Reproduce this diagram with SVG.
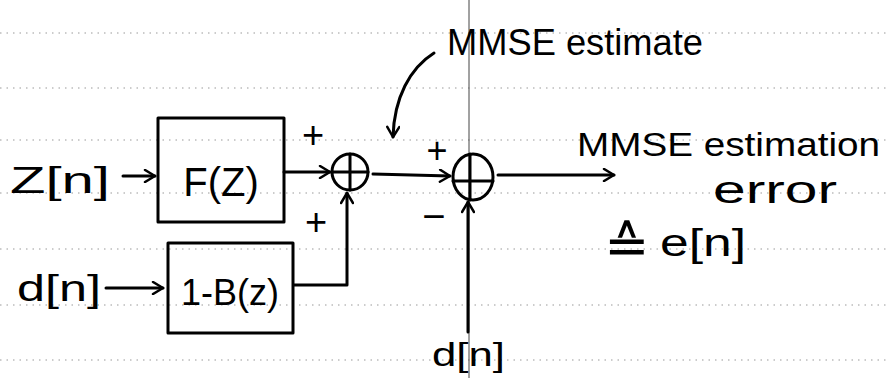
<svg xmlns="http://www.w3.org/2000/svg" width="890" height="378" viewBox="0 0 890 378">
<style>
.t{font-family:"Liberation Sans",Arial,sans-serif;fill:#000}
.s{fill:none;stroke:#000;stroke-width:3;stroke-linecap:round;stroke-linejoin:round}
.rule{stroke:#999;stroke-width:1;stroke-dasharray:1.5 5;fill:none}
</style>
<defs>
<marker id="ah" markerWidth="14" markerHeight="14" refX="12" refY="7" orient="auto" markerUnits="userSpaceOnUse">
<path d="M2,1 L12,7 L2,13" fill="none" stroke="#000" stroke-width="2.5" stroke-linecap="round" stroke-linejoin="round"/>
</marker>
</defs>
<rect width="890" height="378" fill="#fff"/>
<g id="ruling">
<line class="rule" x1="0" y1="33" x2="890" y2="33"/>
<line class="rule" x1="0" y1="88" x2="890" y2="88"/>
<line class="rule" x1="0" y1="140" x2="890" y2="140"/>
<line class="rule" x1="0" y1="193" x2="890" y2="193"/>
<line class="rule" x1="0" y1="249" x2="890" y2="249"/>
<line class="rule" x1="0" y1="305" x2="890" y2="305"/>
<line class="rule" x1="0" y1="360" x2="890" y2="360"/>
<line x1="469" y1="0" x2="469" y2="378" stroke="#444" stroke-width="1"/>
</g>
<g id="connectors">
<line class="s" x1="123" y1="176" x2="155" y2="176" marker-end="url(#ah)"/>
<line class="s" x1="284" y1="172" x2="330" y2="172" marker-end="url(#ah)"/>
<line class="s" x1="106" y1="288" x2="163" y2="288" marker-end="url(#ah)"/>
<polyline class="s" points="294,285 347,285 347,193" marker-end="url(#ah)"/>
<line class="s" x1="373" y1="174" x2="450" y2="176" marker-end="url(#ah)"/>
<line class="s" x1="468" y1="332" x2="468" y2="202" marker-end="url(#ah)"/>
<line class="s" x1="498" y1="175" x2="614" y2="175" marker-end="url(#ah)"/>
<path class="s" d="M434,53 C410,68 394,98 393,137" marker-end="url(#ah)"/>
</g>
<g id="z_in"><text class="t" x="10" y="193" font-size="36" textLength="100" lengthAdjust="spacingAndGlyphs">Z[n]</text></g>
<g id="d_in"><text class="t" x="17" y="301" font-size="36" textLength="84" lengthAdjust="spacingAndGlyphs">d[n]</text></g>
<g id="F">
<rect class="s" x="158" y="118" width="126" height="104"/>
<text class="t" x="221" y="196" font-size="40" text-anchor="middle">F(Z)</text>
</g>
<g id="B">
<rect class="s" x="168" y="243" width="125" height="90"/>
<text class="t" x="230" y="305" font-size="36" text-anchor="middle">1-B(z)</text>
</g>
<g id="sum1">
<circle class="s" cx="350" cy="172" r="18"/>
<line class="s" x1="332" y1="172" x2="368" y2="172"/>
<line class="s" x1="350" y1="154" x2="350" y2="190"/>
<text class="t" x="313" y="148" font-size="38" text-anchor="middle">+</text>
<text class="t" x="316" y="235" font-size="38" text-anchor="middle">+</text>
</g>
<g id="sum2">
<ellipse class="s" cx="473" cy="177" rx="20" ry="23"/>
<line class="s" x1="453" y1="181" x2="493" y2="181"/>
<line class="s" x1="470" y1="154" x2="470" y2="200"/>
<text class="t" x="437" y="163" font-size="36" text-anchor="middle">+</text>
<text class="t" x="434" y="230" font-size="40" text-anchor="middle">−</text>
</g>
<g id="d_bottom"><text class="t" x="432" y="366" font-size="34" textLength="73" lengthAdjust="spacingAndGlyphs">d[n]</text></g>
<g id="label_estimate"><text class="t" x="447" y="55" font-size="36" textLength="256" lengthAdjust="spacingAndGlyphs">MMSE estimate</text></g>
<g id="label_error">
<text class="t" x="577" y="156" font-size="34" textLength="303" lengthAdjust="spacingAndGlyphs">MMSE estimation</text>
<text class="t" x="713" y="203" font-size="38" textLength="124" lengthAdjust="spacingAndGlyphs">error</text>
<text x="604" y="264" font-size="54" font-family="DejaVu Sans,sans-serif">≙</text>
<text class="t" x="660" y="256" font-size="38" textLength="86" lengthAdjust="spacingAndGlyphs">e[n]</text>
</g>
</svg>
